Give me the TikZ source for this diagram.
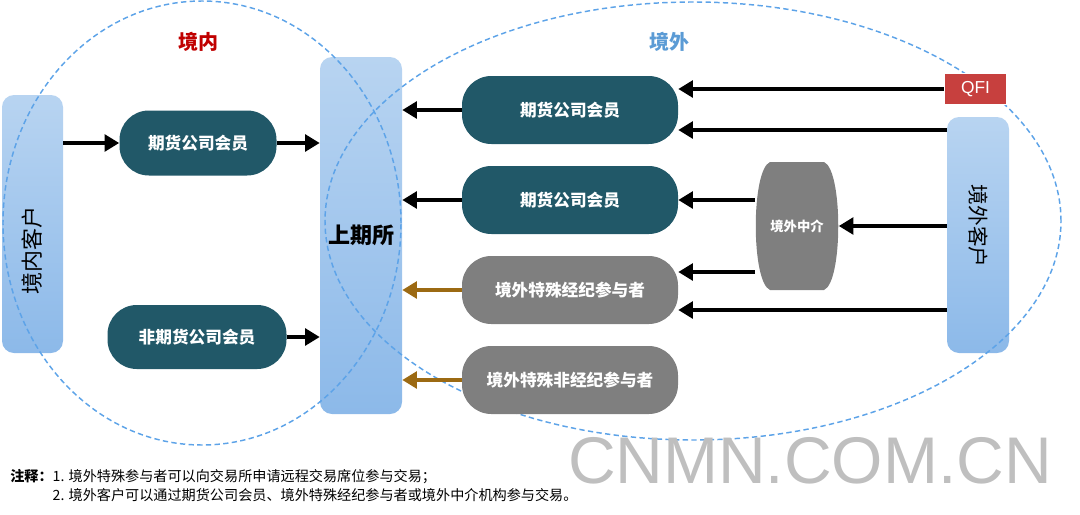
\documentclass[tikz,border=0pt]{standalone}
\usepackage{fontspec}
\usepackage{graphicx}
\setmainfont{Noto Sans CJK SC}
\newfontfamily\arialfont{Liberation Sans}
\usetikzlibrary{positioning,arrows.meta}

\definecolor{memberteal}{HTML}{215868}
\definecolor{othergrey}{HTML}{7F7F7F}
\definecolor{skytop}{HTML}{B8D4F1}
\definecolor{skybottom}{HTML}{8CB9E9}
\definecolor{zonered}{HTML}{C00000}
\definecolor{zoneblue}{HTML}{5B9BD5}
\definecolor{ringblue}{HTML}{5DA3E8}
\definecolor{qfired}{HTML}{C7403E}
\definecolor{brownarrow}{HTML}{9C6A13}

\begin{document}
\begin{tikzpicture}[x=0.75pt, y=-0.75pt, node distance=67.5pt, on grid,
    client/.style={rectangle, rounded corners=9pt, top color=skytop, bottom color=skybottom, inner sep=0pt},
    member/.style={rectangle, rounded corners=22pt, fill=memberteal, text=white, font=\bfseries\fontsize{12.5}{14}\selectfont, minimum width=162pt, minimum height=51pt},
    special/.style={member, fill=othergrey},
    flow/.style={-{Triangle[length=11pt,width=12.5pt]}, line width=3pt},
    remote/.style={flow, draw=brownarrow},
    ring/.style={draw=ringblue, line width=1.1pt, dash pattern=on 4pt off 2.5pt}]
    \useasboundingbox (0,0) rectangle (1080,514);
    % clients and exchange
    \node[client, minimum width=45.75pt, minimum height=193.5pt, font=\fontsize{16.5}{18}\selectfont](inclient) at (32.5,224){\rotatebox{90}{境内客户\hspace{39pt}}};
    \node[client, minimum width=61.5pt, minimum height=267.75pt, font=\bfseries\fontsize{16.5}{18}\selectfont](shfe) at (361,235.5){上期所};
    \node[client, minimum width=46.5pt, minimum height=177pt, font=\fontsize{15.5}{17}\selectfont](outclient) at (978,235){\rotatebox{-90}{境外客户\hspace{13.5pt}}};
    % zones
    \draw[ring] (202,223) ellipse [x radius=149.25pt, y radius=166.5pt];
    \draw[ring] (693,221) ellipse [x radius=276pt, y radius=164.25pt];
    \node[text=zonered, font=\bfseries\fontsize{15}{17}\selectfont](inland) at (198,42){境内};
    \node[text=zoneblue, font=\bfseries\fontsize{15}{17}\selectfont](abroad) at (669,42){境外};
    % members
    \node[member, minimum width=117.75pt, minimum height=48.75pt](memberL) at (198,143){期货公司会员};
    \node[member, minimum width=134.25pt, minimum height=48pt](nonmember) at (197,337){非期货公司会员};
    \node[member](r1) at (570,110){期货公司会员};
    \node[member, below =of r1](r2){期货公司会员};
    \node[special, below =of r2](r3){境外特殊经纪参与者};
    \node[special, below =of r3](r4){境外特殊非经纪参与者};
    \fill[othergrey] (770,162) -- (824,162) .. controls (843,170) and (843,282) .. (824,290) -- (770,290) .. controls (751,282) and (751,170) .. (770,162);
    \node[minimum width=62.25pt, minimum height=96pt, text=white, font=\bfseries\fontsize{10}{12}\selectfont](agent) at (797,226){境外中介};
    \node[fill=qfired, draw=white, line width=1pt, text=white, font=\arialfont\fontsize{13}{15}\selectfont, minimum width=47pt, minimum height=23pt](qfi) at (975.5,89){QFI};
    \coordinate (r1low) at ([yshift=-15pt]r1.east);
    \coordinate (r3high) at ([yshift=13.5pt]r3.east);
    \coordinate (r3low) at ([yshift=-15pt]r3.east);
    % domestic side
    \draw[flow] (inclient.east |- memberL.west) -- (memberL.west);
    \draw[flow] (memberL.east) -- (memberL.east -| shfe.west);
    \draw[flow] (nonmember.east) -- (nonmember.east -| shfe.west);
    % overseas side
    \draw[flow] (r1.west) -- (r1.west -| shfe.east);
    \draw[flow] (r2.west) -- (r2.west -| shfe.east);
    \draw[remote] (r3.west) -- (r3.west -| shfe.east);
    \draw[remote] (r4.west) -- (r4.west -| shfe.east);
    \draw[flow] (qfi.west) -- (qfi.west -| r1.east);
    \draw[flow] (r1low -| outclient.west) -- (r1low);
    \draw[flow] (outclient.west |- agent.east) -- (agent.east);
    \draw[flow] (agent.west |- r2.east) -- (r2.east);
    \draw[flow] (r3high -| agent.west) -- (r3high);
    \draw[flow] (r3low -| outclient.west) -- (r3low);
    % notes
    \node[anchor=north west, align=left, inner sep=0pt, font=\fontsize{10.6}{14.5}\selectfont](notes) at (10,469){\textbf{注释：}1. 境外特殊参与者可以向交易所申请远程交易席位参与交易；\\\phantom{\textbf{注释：}}2. 境外客户可以通过期货公司会员、境外特殊经纪参与者或境外中介机构参与交易。};
    \node[font=\arialfont\fontsize{49.5}{50}\selectfont, text=black!25](mark) at (810,461){CNMN.COM.CN};
\end{tikzpicture}
\end{document}
